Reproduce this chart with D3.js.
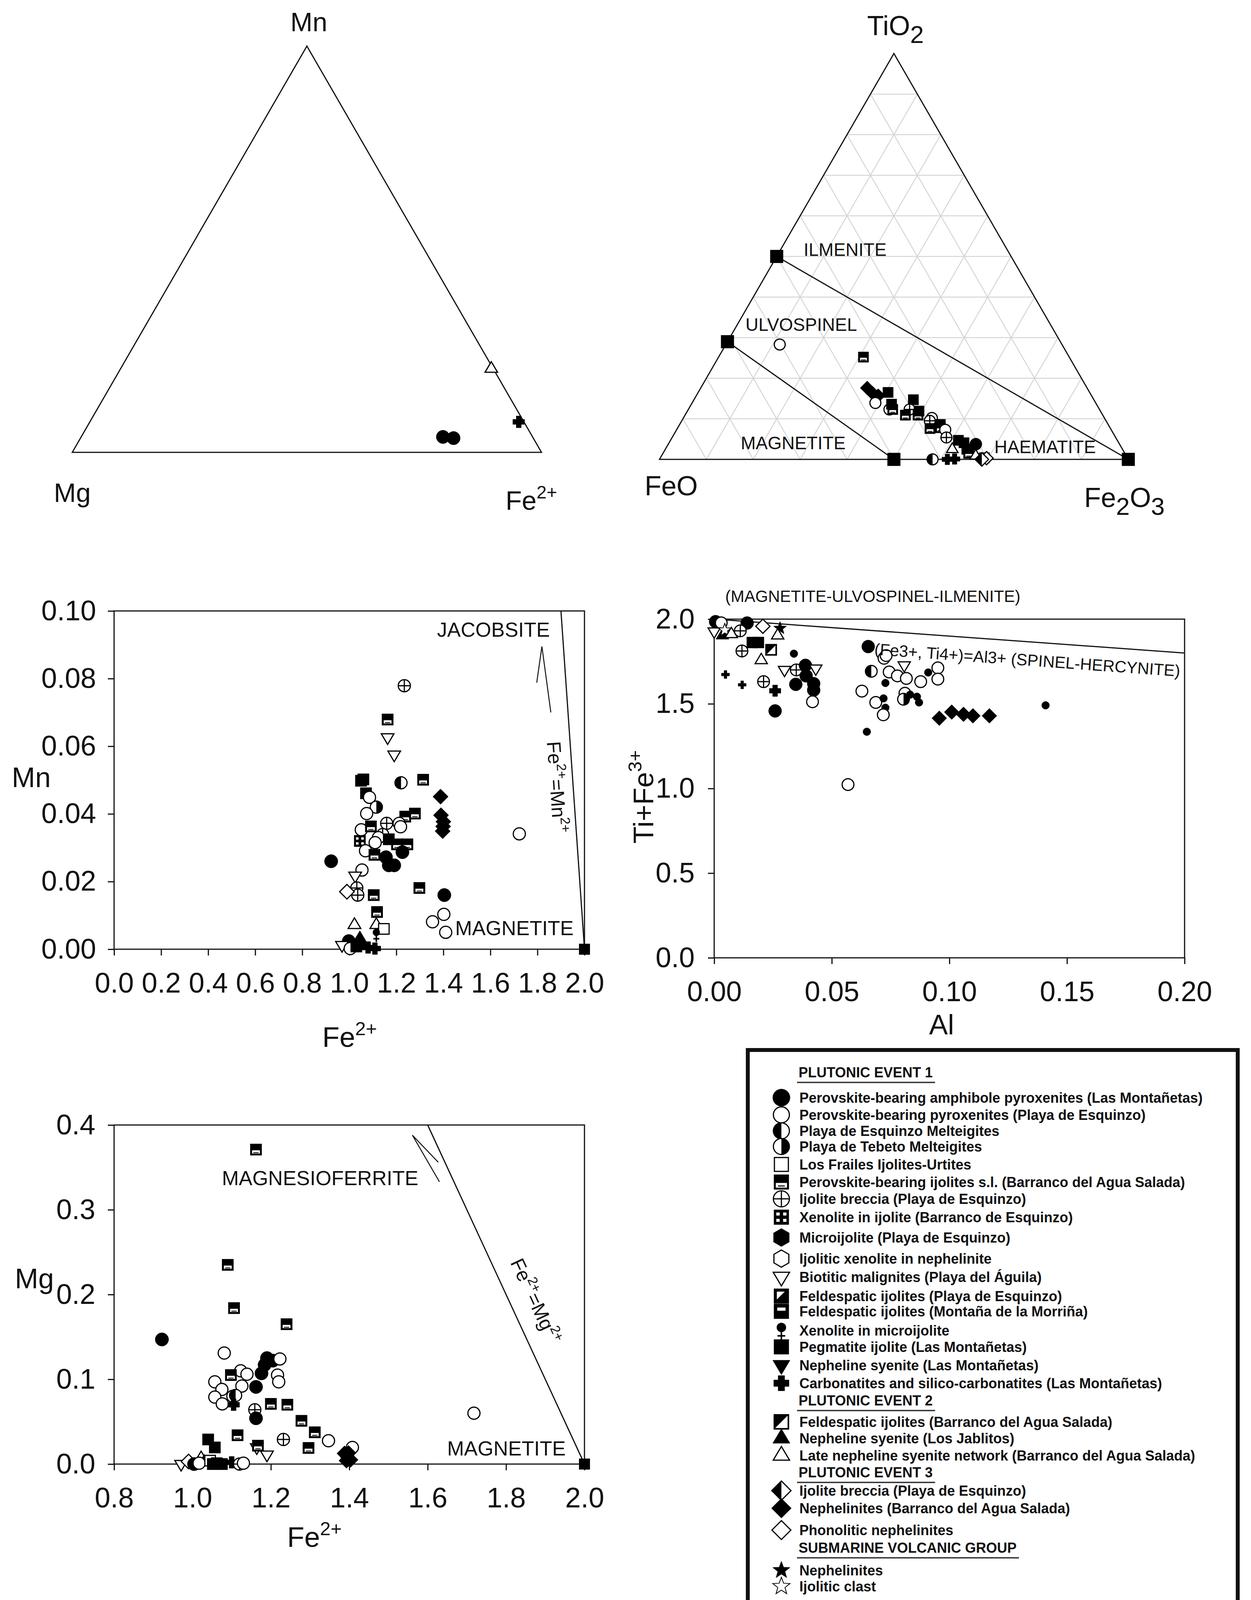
<!DOCTYPE html>
<html><head><meta charset="utf-8">
<script src="https://cdn.jsdelivr.net/npm/d3@7"></script>
<style>body{margin:0;background:#fff}</style>
</head><body>
<svg id="c" width="3202" height="4168" xmlns="http://www.w3.org/2000/svg"></svg>
<script>
// ---------------- DATA ----------------
// Ternary 1 : [Mn, Mg, Fe2+, symbol]
const ternMnMgFe = [
  [0.038, 0.191, 0.771, 'pab'],
  [0.035, 0.170, 0.795, 'pab'],
  [0.206, 0.004, 0.790, 'lns'],
  [0.075, 0.011, 0.914, 'carb']
];
// Ternary 2 : [TiO2, FeO, Fe2O3, symbol]
const ternTiFeFe = [
  [0.176,0.469,0.355,'neph'],[0.163,0.464,0.373,'neph'],[0.157,0.455,0.388,'neph'],
  [0.165,0.430,0.405,'pi'],[0.139,0.470,0.391,'pp'],[0.123,0.448,0.429,'pp'],
  [0.136,0.437,0.427,'pi'],[0.123,0.441,0.436,'pij'],[0.147,0.385,0.468,'pi'],
  [0.123,0.405,0.472,'ib'],[0.109,0.421,0.470,'pij'],[0.109,0.394,0.497,'pij'],
  [0.119,0.387,0.494,'pi'],[0.102,0.368,0.530,'pp'],[0.095,0.376,0.529,'ib'],
  [0.086,0.358,0.556,'pi'],[0.076,0.385,0.539,'pij'],[0.078,0.362,0.560,'pij'],
  [0.073,0.354,0.573,'pp'],[0.054,0.361,0.585,'ib'],[0.047,0.339,0.614,'pi'],
  [0.041,0.330,0.629,'pi'],[0.0375,0.3065,0.656,'pab'],[0.025,0.363,0.612,'lns'],
  [0.025,0.332,0.643,'pi'],[0.015,0.333,0.652,'pij'],[0.000,0.4175,0.5825,'pem'],
  [0.000,0.386,0.614,'carb'],[0.001,0.370,0.629,'carb'],[0.009,0.321,0.670,'lns'],
  [0.004,0.305,0.691,'lf'],[0.003,0.301,0.696,'phon'],[0.000,0.3125,0.6875,'ib3'],
  [0.283,0.602,0.115,'pp'],[0.252,0.439,0.309,'pij']
];
// Ternary 2 end-members : [TiO2, FeO, Fe2O3]
const endMembers = { ilmenite:[0.5,0.5,0], ulvospinel:[0.29,0.71,0], magnetite:[0,0.5,0.5], haematite:[0,0,1] };

// Plot Mn vs Fe2+ : [Fe2+, Mn, symbol]
const mnFe = [
  [1.234,0.0779,'ib'],[1.163,0.0679,'pij'],[1.163,0.0626,'bm'],[1.191,0.0575,'bm'],
  [1.050,0.0498,'pi'],[1.060,0.0502,'pi'],[1.071,0.0461,'pi'],[1.086,0.0449,'pp'],
  [1.220,0.0492,'pem'],[1.314,0.0501,'pij'],[1.388,0.0451,'neph'],[1.115,0.0420,'ptm'],
  [1.074,0.0401,'pp'],[1.390,0.0396,'neph'],[1.400,0.0377,'neph'],[1.399,0.0363,'neph'],
  [1.397,0.0349,'neph'],[1.279,0.0401,'pij'],[1.238,0.0392,'pij'],[1.212,0.0372,'pp'],
  [1.218,0.0362,'pp'],[1.159,0.0372,'ib'],[1.051,0.0353,'pp'],[1.092,0.0363,'pij'],
  [1.142,0.0339,'ib'],[1.045,0.0320,'xi'],[1.069,0.0291,'pp'],[1.124,0.0330,'pp'],
  [1.110,0.0315,'pp'],[1.168,0.0325,'pi'],[1.203,0.0310,'pij'],[1.247,0.0310,'pij'],
  [1.107,0.0279,'pij'],[1.156,0.0272,'pab'],[1.191,0.0248,'pab'],[1.168,0.0248,'pab'],
  [1.226,0.0287,'pab'],[0.923,0.0260,'pab'],[1.054,0.0234,'pp'],[1.025,0.0217,'bm'],
  [1.032,0.0181,'ib'],[1.036,0.0160,'ib'],[0.990,0.0170,'phon'],[1.104,0.0160,'pij'],
  [1.298,0.0181,'pij'],[1.404,0.0160,'pab'],[1.118,0.0110,'pij'],[1.402,0.0103,'pp'],
  [1.354,0.0081,'pp'],[1.410,0.0050,'pp'],[1.022,0.0072,'lns'],[1.115,0.0072,'lns'],
  [1.147,0.0060,'lf'],[1.115,0.0043,'xmi'],[1.045,0.0033,'nslj'],[0.998,0.0024,'pab'],
  [0.969,0.0012,'bm'],[1.004,0.0002,'pp'],[1.030,0.0008,'pi'],[1.060,0.0012,'nslj'],
  [1.080,0.0005,'carb'],[1.109,0.0002,'carb'],[1.723,0.0341,'pp']
];
// Plot Ti+Fe3+ vs Al : [Al, Ti+Fe3+, symbol]
const tiAl = [
  [0.0006,1.985,'pab'],[0.003,1.978,'pp'],[0.014,1.977,'pab'],[0.0207,1.958,'phon'],
  [0.028,1.946,'svn'],[0.027,1.904,'lns'],[0.000,1.927,'bm'],[0.0035,1.904,'nslj'],
  [0.0045,1.935,'svc'],[0.0073,1.912,'lns'],[0.0111,1.931,'ib'],[0.0162,1.862,'pi'],
  [0.0188,1.862,'pi'],[0.0118,1.812,'ib'],[0.0242,1.819,'fbas'],[0.020,1.758,'lns'],
  [0.0339,1.796,'dot'],[0.0048,1.673,'plus'],[0.0119,1.612,'plus'],[0.021,1.631,'ib'],
  [0.0259,1.577,'carb'],[0.0259,1.458,'pab'],[0.0299,1.700,'bm'],[0.0349,1.700,'ib'],
  [0.0388,1.727,'pab'],[0.0432,1.708,'bm'],[0.0391,1.665,'pab'],[0.0347,1.615,'pab'],
  [0.0423,1.619,'pab'],[0.0423,1.581,'pab'],[0.0418,1.512,'pp'],[0.0655,1.838,'pab'],
  [0.0668,1.692,'pem'],[0.0722,1.769,'pp'],[0.0731,1.785,'pp'],[0.0744,1.688,'pp'],
  [0.0779,1.665,'pp'],[0.0808,1.727,'bm'],[0.0817,1.650,'pp'],[0.0878,1.631,'pp'],
  [0.091,1.685,'dot'],[0.0951,1.712,'pp'],[0.0951,1.646,'pp'],[0.0728,1.623,'dot'],
  [0.0628,1.575,'pp'],[0.0687,1.508,'pp'],[0.072,1.532,'dot'],[0.0728,1.477,'dot'],
  [0.0719,1.435,'pp'],[0.0811,1.562,'pp'],[0.0805,1.527,'ptm'],[0.0833,1.554,'dot'],
  [0.0862,1.542,'dot'],[0.0871,1.508,'dot'],[0.0649,1.335,'dot'],[0.0957,1.415,'neph'],
  [0.101,1.451,'neph'],[0.106,1.438,'neph'],[0.110,1.429,'neph'],[0.117,1.429,'neph'],
  [0.1409,1.491,'dot'],[0.0569,1.023,'pp']
];
// Plot Mg vs Fe2+ : [Fe2+, Mg, symbol]
const mgFe = [
  [1.162,0.371,'pij'],[1.090,0.235,'pij'],[1.106,0.184,'pij'],[1.240,0.165,'pij'],
  [0.922,0.147,'pab'],[1.081,0.131,'pp'],[1.190,0.125,'pab'],[1.205,0.122,'pab'],
  [1.184,0.117,'pab'],[1.223,0.124,'pp'],[1.217,0.105,'pp'],[1.220,0.097,'pp'],
  [1.176,0.107,'pab'],[1.162,0.091,'pab'],[1.123,0.110,'pp'],[1.139,0.106,'pp'],
  [1.126,0.092,'pp'],[1.098,0.105,'pij'],[1.057,0.097,'pp'],[1.075,0.088,'pp'],
  [1.057,0.079,'pp'],[1.076,0.071,'pp'],[1.103,0.080,'pp'],[1.110,0.081,'pem'],
  [1.105,0.070,'carb'],[1.159,0.064,'ib'],[1.162,0.054,'pab'],[1.200,0.071,'pij'],
  [1.242,0.070,'pij'],[1.278,0.051,'pij'],[1.312,0.0375,'pij'],[1.296,0.019,'pij'],
  [1.115,0.034,'pij'],[1.347,0.0275,'pp'],[1.232,0.029,'ib'],[1.164,0.0196,'bm'],
  [1.190,0.011,'bm'],[1.167,0.0217,'pij'],[1.040,0.029,'pi'],[1.057,0.0196,'pi'],
  [1.408,0.0196,'pp'],[1.388,0.0125,'neph'],[1.395,0.009,'pab'],[1.403,0.005,'neph'],
  [1.398,0.013,'neph'],[1.393,0.004,'neph'],
  [0.971,0.000,'bm'],[0.990,0.003,'phon'],[1.022,0.007,'lns'],[1.004,0.000,'pab'],
  [1.030,0.003,'nslj'],[1.017,0.001,'pp'],[1.045,0.004,'lf'],[1.052,0.000,'pi'],
  [1.062,0.001,'pi'],[1.075,0.000,'pi'],[1.100,0.002,'carb'],[1.120,0.000,'ib'],
  [1.130,0.001,'pp'],[1.718,0.060,'pp']
];
const magnetitePt = [2.0, 0];

// Tick values
const mnFeXTicks = [0,0.2,0.4,0.6,0.8,1.0,1.2,1.4,1.6,1.8,2.0];
const mnFeYTicks = [0,0.02,0.04,0.06,0.08,0.10];
const tiAlXTicks = [0,0.05,0.10,0.15,0.20];
const tiAlYTicks = [0,0.5,1.0,1.5,2.0];
const mgFeXTicks = [0.8,1.0,1.2,1.4,1.6,1.8,2.0];
const mgFeYTicks = [0,0.1,0.2,0.3,0.4];

// Legend
const legendGroups = [
  {head:'PLUTONIC EVENT 1', rows:[
    ['pab','Perovskite-bearing amphibole pyroxenites (Las Montañetas)'],
    ['pp','Perovskite-bearing pyroxenites (Playa de Esquinzo)'],
    ['pem','Playa de Esquinzo Melteigites'],
    ['ptm','Playa de Tebeto Melteigites'],
    ['lf','Los Frailes Ijolites-Urtites'],
    ['pij','Perovskite-bearing ijolites s.l. (Barranco del Agua Salada)'],
    ['ib','Ijolite breccia (Playa de Esquinzo)'],
    ['xi','Xenolite in ijolite (Barranco de Esquinzo)'],
    ['mij','Microijolite (Playa de Esquinzo)'],
    ['ixn','Ijolitic xenolite in nephelinite'],
    ['bm','Biotitic malignites (Playa del Águila)'],
    ['fpe','Feldespatic ijolites (Playa de Esquinzo)'],
    ['fmm','Feldespatic ijolites (Montaña de la Morriña)'],
    ['xmi','Xenolite in microijolite'],
    ['pi','Pegmatite ijolite (Las Montañetas)'],
    ['nslm','Nepheline syenite (Las Montañetas)'],
    ['carb','Carbonatites and silico-carbonatites (Las Montañetas)']]},
  {head:'PLUTONIC EVENT 2', rows:[
    ['fbas','Feldespatic ijolites (Barranco del Agua Salada)'],
    ['nslj','Nepheline syenite (Los Jablitos)'],
    ['lns','Late nepheline syenite network (Barranco del Agua Salada)']]},
  {head:'PLUTONIC EVENT 3', rows:[
    ['ib3','Ijolite breccia (Playa de Esquinzo)'],
    ['neph','Nephelinites (Barranco del Agua Salada)'],
    ['phon','Phonolitic nephelinites']]},
  {head:'SUBMARINE VOLCANIC GROUP', rows:[
    ['svn','Nephelinites'],
    ['svc','Ijolitic clast']]}
];

// ---------------- DRAWING ----------------
const FONT = '"Liberation Sans", Arial, Helvetica, sans-serif';
const svg = d3.select('#c');
svg.append('rect').attr('width',3202).attr('height',4168).attr('fill','#fff');

function poly(pts){ return 'M' + pts.map(p=>p[0].toFixed(2)+','+p[1].toFixed(2)).join('L') + 'Z'; }

function sym(g, type, r){
  const s = r*0.88, sw = 3;
  const K='#000', W='#fff';
  const open = sel => sel.attr('fill',W).attr('stroke',K).attr('stroke-width',sw);
  const fill = sel => sel.attr('fill',K).attr('stroke',K).attr('stroke-width',1);
  const sq = (h)=>[[-h,-h],[h,-h],[h,h],[-h,h]];
  const hex = R=>d3.range(6).map(i=>{const a=(-90+60*i)*Math.PI/180;return [R*Math.cos(a),R*Math.sin(a)];});
  const tri = (R,down)=> down ? [[-R*0.95,-R*0.55],[R*0.95,-R*0.55],[0,R*1.05]] : [[-R*0.95,R*0.55],[R*0.95,R*0.55],[0,-R*1.05]];
  const dia = R=>[[0,-R],[R,0],[0,R],[-R,0]];
  const star = (R)=>d3.range(10).map(i=>{const rr=i%2?R*0.42:R;const a=(-90+36*i)*Math.PI/180;return [rr*Math.cos(a),rr*Math.sin(a)];});
  const cross = (h,a)=>[[-a,-h],[a,-h],[a,-a],[h,-a],[h,a],[a,a],[a,h],[-a,h],[-a,a],[-h,a],[-h,-a],[-a,-a]];
  const rc = r-1.5;
  switch(type){
    case 'pab': g.append('circle').attr('r',r).call(fill); break;
    case 'dot': g.append('circle').attr('r',r*0.58).call(fill); break;
    case 'pp': g.append('circle').attr('r',rc).call(open); break;
    case 'pem':
      g.append('circle').attr('r',rc).call(open);
      g.append('path').attr('d',`M0,${-rc}A${rc},${rc} 0 0 0 0,${rc}Z`).attr('fill',K); break;
    case 'ptm':
      g.append('circle').attr('r',rc).call(open);
      g.append('path').attr('d',`M0,${-rc}A${rc},${rc} 0 0 1 0,${rc}Z`).attr('fill',K); break;
    case 'lf': g.append('path').attr('d',poly(sq(s-1.5))).call(open); break;
    case 'pij':
      g.append('path').attr('d',poly(sq(s))).attr('fill',K);
      g.append('rect').attr('x',-s+5).attr('y',s*0.12).attr('width',2*s-10).attr('height',s*0.88-5).attr('fill',W);
      g.append('rect').attr('x',-s*0.45).attr('y',s*0.45).attr('width',s*0.9).attr('height',Math.max(2,s*0.14)).attr('fill',K); break;
    case 'ib':
      g.append('circle').attr('r',rc).call(open);
      g.append('path').attr('d',`M${-rc},0H${rc}M0,${-rc}V${rc}`).attr('stroke',K).attr('stroke-width',sw); break;
    case 'xi':
      g.append('path').attr('d',poly(sq(s))).attr('fill',K);
      [[-1,-1],[1,-1],[-1,1],[1,1]].forEach(([a,b])=>g.append('rect').attr('x',a*s*0.45-s*0.22).attr('y',b*s*0.42-s*0.2).attr('width',s*0.44).attr('height',s*0.4).attr('fill',W)); break;
    case 'mij': g.append('path').attr('d',poly(hex(r*1.05))).call(fill); break;
    case 'ixn': g.append('path').attr('d',poly(hex(r))).call(open); break;
    case 'bm': g.append('path').attr('d',poly(tri(r,true))).call(open); break;
    case 'nslm': g.append('path').attr('d',poly(tri(r*1.05,true))).call(fill); break;
    case 'nslj': g.append('path').attr('d',poly(tri(r*1.05,false))).call(fill); break;
    case 'lns': g.append('path').attr('d',poly(tri(r,false))).call(open); break;
    case 'fpe':
      g.append('path').attr('d',poly(sq(s))).attr('fill',K);
      g.append('path').attr('d',poly([[-s*0.6,-s*0.6],[s*0.45,-s*0.6],[-s*0.6,s*0.45]])).attr('fill',W); break;
    case 'fmm':
      g.append('path').attr('d',poly(sq(s))).attr('fill',K);
      g.append('rect').attr('x',-s*0.55).attr('y',-s*0.5).attr('width',s*1.1).attr('height',s*0.42).attr('fill',W); break;
    case 'fbas':
      g.append('path').attr('d',poly(sq(s-1.5))).call(open);
      g.append('path').attr('d',poly([[-s,-s],[s,-s],[-s,s]])).attr('fill',K);
      g.append('path').attr('d',poly(sq(s-1.5))).attr('fill','none').attr('stroke',K).attr('stroke-width',sw+1); break;
    case 'xmi':
      g.append('circle').attr('cy',-r*0.35).attr('r',r*0.55).attr('fill',K);
      g.append('path').attr('d',`M0,0V${r*1.1}M${-r*0.45},${r*0.62}H${r*0.45}`).attr('stroke',K).attr('stroke-width',sw+1); break;
    case 'pi': g.append('path').attr('d',poly(sq(s))).attr('fill',K); break;
    case 'carb': g.append('path').attr('d',poly(cross(s,s*0.42))).call(fill); break;
    case 'plus': g.append('path').attr('d',poly(cross(s*0.7,s*0.24))).call(fill); break;
    case 'ib3':
      g.append('path').attr('d',poly(dia(r*1.12))).call(open);
      g.append('path').attr('d',poly([[0,-r*1.12],[0,r*1.12],[-r*1.12,0]])).attr('fill',K); break;
    case 'neph': g.append('path').attr('d',poly(dia(r*1.15))).call(fill); break;
    case 'phon': g.append('path').attr('d',poly(dia(r*1.1))).call(open); break;
    case 'svn': g.append('path').attr('d',poly(star(r*1.05))).call(fill); break;
    case 'svc': g.append('path').attr('d',poly(star(r*1.05))).attr('fill',W).attr('stroke',K).attr('stroke-width',2); break;
  }
}

function putSym(layer, x, y, type, r){
  const g = layer.append('g').attr('transform',`translate(${x},${y})`);
  sym(g, type, r);
}

// rich text helper: parts = [[txt, 'n'|'sup'|'sub']]
function rich(t, parts, base){
  parts.forEach(([txt,k])=>{
    const sp = t.append('tspan').text(txt);
    if(k==='sup') sp.attr('font-size', base*0.68).attr('dy', -base*0.42);
    else if(k==='sub') sp.attr('font-size', base*0.9).attr('dy', base*0.28);
    else if(k==='nAfterSup') sp.attr('dy', base*0.42);
    else if(k==='nAfterSub') sp.attr('dy', -base*0.28);
  });
  return t;
}
function label(x,y,size,anchor,parts,extra){
  const t = svg.append('text').attr('x',x).attr('y',y).attr('font-size',size).attr('font-family',FONT).attr('text-anchor',anchor).attr('fill','#111');
  if(extra) extra(t);
  return rich(t, parts, size);
}

// ---------- Ternary helper ----------
function ternary(BLx, BRx, baseY, apexY){
  const xs = d3.scaleLinear().domain([0,1]).range([BLx,BRx]);
  const ys = d3.scaleLinear().domain([0,1]).range([baseY,apexY]);
  return (top,right)=>[xs(right+top/2), ys(top)];
}

// ----- Ternary 1: Mn - Mg - Fe2+
{
  const P = ternary(185,1386,1158,118);
  const tri = [P(1,0),P(0,0),P(0,1)];
  svg.append('path').attr('d',poly(tri)).attr('fill','none').attr('stroke','#111').attr('stroke-width',3);
  const layer = svg.append('g');
  ternMnMgFe.forEach(([mn,mg,fe,t])=>{ const s=mn+mg+fe; const [x,y]=P(mn/s,fe/s); putSym(layer,x,y,t,17); });
  label(P(1,0)[0]+5, 80, 68, 'middle', [['Mn','n']]);
  label(185, 1285, 68, 'middle', [['Mg','n']]);
  label(1360, 1305, 68, 'middle', [['Fe','n'],['2+','sup']]);
}

// ----- Ternary 2: TiO2 - FeO - Fe2O3
{
  const P = ternary(1688,2888,1176,137);
  const grid = svg.append('g').attr('stroke','#d6d6d6').attr('stroke-width',2.5).attr('fill','none');
  d3.range(1,10).map(i=>i/10).forEach(v=>{
    grid.append('path').attr('d','M'+P(v,0)+'L'+P(v,1-v));
    grid.append('path').attr('d','M'+P(0,v)+'L'+P(1-v,v));
    grid.append('path').attr('d','M'+P(0,1-v)+'L'+P(1-v,0));
  });
  svg.append('path').attr('d',poly([P(1,0),P(0,0),P(0,1)])).attr('fill','none').attr('stroke','#111').attr('stroke-width',3);
  const em = k=>{const [t,feo,f]=endMembers[k]; return P(t,f);};
  svg.append('path').attr('d','M'+em('ilmenite')+'L'+em('haematite')).attr('stroke','#111').attr('stroke-width',3);
  svg.append('path').attr('d','M'+em('ulvospinel')+'L'+em('magnetite')).attr('stroke','#111').attr('stroke-width',3);
  const layer = svg.append('g');
  ternTiFeFe.forEach(([t,feo,f,ty])=>{ const [x,y]=P(t,f); putSym(layer,x,y,ty,15.5); });
  Object.keys(endMembers).forEach(k=>{ const [x,y]=em(k); putSym(layer,x,y,'pi',19); });
  label(2057,655,46,'start',[['ILMENITE','n']]);
  label(1908,847,46,'start',[['ULVOSPINEL','n']]);
  label(1896,1150,46,'start',[['MAGNETITE','n']]);
  label(2545,1160,46,'start',[['HAEMATITE','n']]);
  label(2292,90,70,'middle',[['TiO','n'],['2','sub']]);
  label(1718,1268,70,'middle',[['FeO','n']]);
  label(2878,1298,70,'middle',[['Fe','n'],['2','sub'],['O','nAfterSub'],['3','sub']]);
}

// ---------- XY helpers ----------
function styleAxis(sel){
  sel.select('.domain').remove();
  sel.attr('font-size',72).attr('font-family',FONT);
  sel.selectAll('line').attr('stroke-width',3).attr('stroke','#111');
  sel.selectAll('text').attr('fill','#111');
}
function xyPlot(box, xDom, yDom, xTicks, yTicks, xf, yf, padY){
  const x = d3.scaleLinear().domain(xDom).range([box.l, box.r]);
  const y = d3.scaleLinear().domain(yDom).range([box.b, box.t]);
  svg.append('g').attr('transform',`translate(0,${box.b})`)
    .call(d3.axisBottom(x).tickValues(xTicks).tickFormat(xf).tickSize(16).tickPadding(44)).call(styleAxis);
  svg.append('g').attr('transform',`translate(${box.l},0)`)
    .call(d3.axisLeft(y).tickValues(yTicks).tickFormat(yf).tickSize(16).tickPadding(padY)).call(styleAxis);
  svg.append('rect').attr('x',box.l).attr('y',box.t).attr('width',box.r-box.l).attr('height',box.b-box.t)
    .attr('fill','none').attr('stroke','#111').attr('stroke-width',3);
  return {x,y};
}
function line(s, pts, w){
  svg.append('path').attr('d', d3.line().x(d=>s.x(d[0])).y(d=>s.y(d[1]))(pts))
    .attr('fill','none').attr('stroke','#111').attr('stroke-width',w||2.5);
}

// ----- Mn vs Fe2+
{
  const box = {l:292, r:1496, t:1564, b:2430};
  const s = xyPlot(box,[0,2],[0,0.1],mnFeXTicks,mnFeYTicks,d3.format('.1f'),d3.format('.2f'),30);
  line(s,[[1.9,0.1],[2.0,0]],3);
  line(s,[[1.797,0.0788],[1.819,0.0895],[1.857,0.070]],2.5);
  const layer = svg.append('g');
  mnFe.forEach(([a,b,t])=>putSym(layer,s.x(a),s.y(b),t,17));
  putSym(layer,s.x(magnetitePt[0]),s.y(magnetitePt[1]),'pi',16);
  label(s.x(1.853), s.y(0.0924), 52, 'end', [['JACOBSITE','n']]);
  label(s.x(1.954), s.y(0.0041), 52, 'end', [['MAGNETITE','n']]);
  label(30, 2015, 72, 'start', [['Mn','n']]);
  label(895, 2680, 72, 'middle', [['Fe','n'],['2+','sup']]);
  label(1408, 2016, 50, 'middle', [['Fe','n'],['2+','sup'],['=Mn','nAfterSup'],['2+','sup']],
        t=>t.attr('transform','rotate(86,1408,2016)'));
}

// ----- Ti+Fe3+ vs Al
{
  const box = {l:1828, r:3032, t:1585, b:2452};
  const s = xyPlot(box,[0,0.2],[0,2.0],tiAlXTicks,tiAlYTicks,d3.format('.2f'),d3.format('.1f'),34);
  line(s,[[0,2.0],[0.2,1.80]],3);
  const layer = svg.append('g');
  tiAl.forEach(([a,b,t])=>putSym(layer,s.x(a),s.y(b),t,t==='dot'?17:16.5));
  label(2234, 1541, 42, 'middle', [['(MAGNETITE-ULVOSPINEL-ILMENITE)','n']]);
  const tx = s.x(0.068), ty = s.y(1.79);
  label(tx, ty, 42, 'start', [['(Fe3+, Ti4+)=Al3+ (SPINEL-HERCYNITE)','n']], t=>t.attr('transform',`rotate(4.1,${tx},${ty})`));
  label(1672, 2040, 72, 'middle', [['Ti+Fe','n'],['3+','sup']], t=>t.attr('transform','rotate(-90,1672,2040)'));
  label(2410, 2648, 72, 'middle', [['Al','n']]);
}

// ----- Mg vs Fe2+
{
  const box = {l:292, r:1496, t:2880, b:3748};
  const s = xyPlot(box,[0.8,2.0],[0,0.4],mgFeXTicks,mgFeYTicks,d3.format('.1f'),d3.format('.1f'),32);
  line(s,[[1.6,0.4],[2.0,0]],3);
  line(s,[[1.627,0.356],[1.561,0.388],[1.630,0.333]],2.5);
  const layer = svg.append('g');
  mgFe.forEach(([a,b,t])=>putSym(layer,s.x(a),s.y(b),t,17));
  putSym(layer,s.x(magnetitePt[0]),s.y(magnetitePt[1]),'pi',16);
  label(s.x(1.075), s.y(0.329), 52, 'start', [['MAGNESIOFERRITE','n']]);
  label(s.x(1.952), s.y(0.010), 52, 'end', [['MAGNETITE','n']]);
  label(38, 3298, 72, 'start', [['Mg','n']]);
  label(805, 3960, 72, 'middle', [['Fe','n'],['2+','sup']]);
  label(1355, 3338, 50, 'middle', [['Fe','n'],['2+','sup'],['=Mg','nAfterSup'],['2+','sup']],
        t=>t.attr('transform','rotate(65,1355,3338)'));
}

// ----- Legend
{
  svg.append('rect').attr('x',1914).attr('y',2688).attr('width',1254).attr('height',1427)
    .attr('fill','#fff').attr('stroke','#111').attr('stroke-width',10);
  // layout (vertical positions of headers and rows, in px)
  const headY = [2758, 3598, 3782, 3975];
  const rowY = [
    [2810,2854,2895,2935,2981,3026,3069,3116,3168,3222,3269,3318,3357,3406,3448,3495,3541],
    [3640,3682,3726],
    [3816,3861,3917],
    [4020,4061]
  ];
  const symX = 2000, txtX = 2046;
  const lg = svg.append('g');
  legendGroups.forEach((grp,gi)=>{
    const h = lg.append('text').attr('x',txtX-2).attr('y',headY[gi]).attr('font-size',36).attr('font-weight','bold')
      .attr('font-family',FONT).attr('fill','#111').text(grp.head);
    const w = h.node().getComputedTextLength();
    lg.append('line').attr('x1',txtX-6).attr('x2',txtX+w+4).attr('y1',headY[gi]+13).attr('y2',headY[gi]+13)
      .attr('stroke','#333').attr('stroke-width',3.5);
    grp.rows.forEach(([t,l],ri)=>{
      const y = rowY[gi][ri];
      putSym(lg, symX, y, t, 22);
      lg.append('text').attr('x',txtX).attr('y',y+13).attr('font-size',36).attr('font-weight','bold')
        .attr('font-family',FONT).attr('fill','#111').text(l);
    });
  });
}
</script>
</body></html>
